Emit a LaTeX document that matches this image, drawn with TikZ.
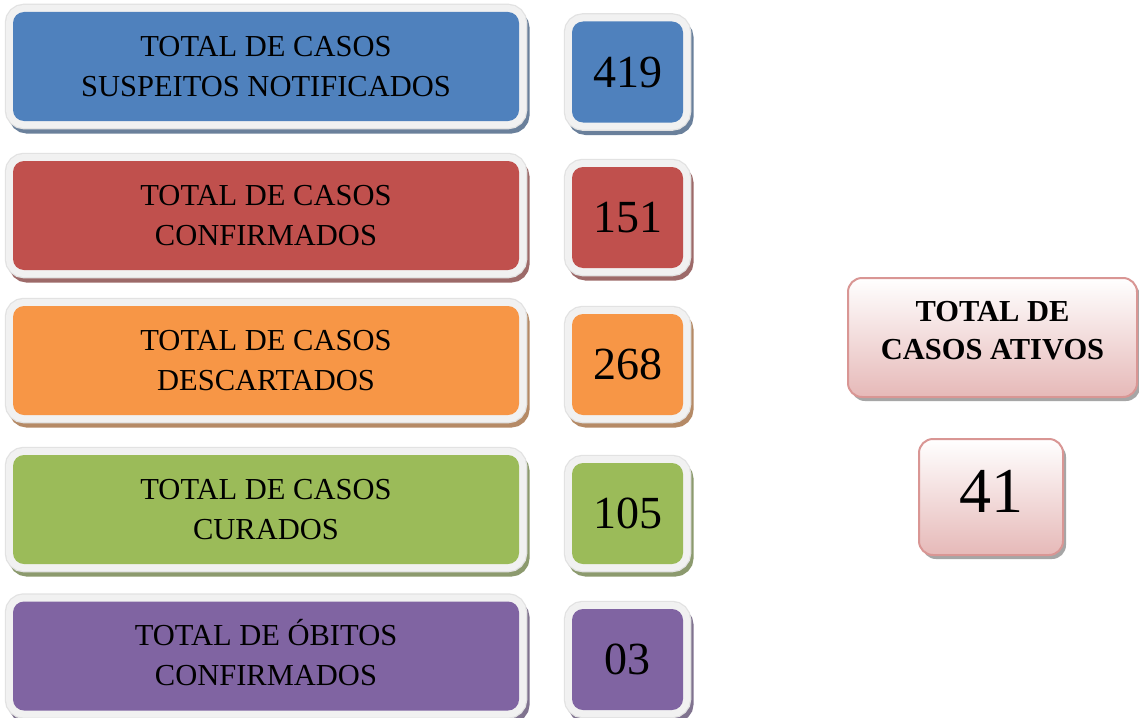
\documentclass[tikz,border=0pt]{standalone}
\usepackage{fontspec}
\setmainfont{Liberation Serif}
\definecolor{cblue}{HTML}{4F81BD}
\definecolor{cred}{HTML}{C0504D}
\definecolor{corange}{HTML}{F79646}
\definecolor{cgreen}{HTML}{9BBB59}
\definecolor{cpurple}{HTML}{8064A2}
\definecolor{framefill}{HTML}{F1F1F1}
\definecolor{frameline}{HTML}{E2E2E2}
\definecolor{pinkline}{HTML}{D99694}
\definecolor{pinkfill}{HTML}{E6B9B8}
\tikzset{
  framed/.style={
    preaction={draw=#1!45!gray, fill=#1!45!gray, line width=15pt,
               transform canvas={shift={(3pt,-5pt)}}},
    preaction={draw=frameline, fill=frameline, line width=16.5pt},
    preaction={draw=framefill, fill=framefill, line width=14pt},
    fill=#1, rounded corners=11pt, inner sep=0pt, align=center},
  lbox/.style={framed=#1, minimum width=506pt, minimum height=109pt,
    font=\fontsize{30.5}{40}\selectfont},
  nbox/.style={framed=#1, minimum width=111pt, minimum height=101pt,
    font=\fontsize{46}{46}\selectfont},
  rbox/.style={
    preaction={fill=gray!70, transform canvas={shift={(3pt,-4pt)}}},
    draw=pinkline, line width=2pt, top color=white, bottom color=pinkfill,
    rounded corners=14pt, inner sep=0pt, align=center}
}
\begin{document}
\begin{tikzpicture}[x=1pt, y=-1pt]
\useasboundingbox[fill=white] (0,0) rectangle (1139,717);

\node[lbox=cblue]   (l1) at (266,66.5)  {TOTAL DE CASOS\\SUSPEITOS NOTIFICADOS};
\node[lbox=cred]    (l2) at (266,215.5) {TOTAL DE CASOS\\CONFIRMADOS};
\node[lbox=corange] (l3) at (266,360.5) {TOTAL DE CASOS\\DESCARTADOS};
\node[lbox=cgreen]  (l4) at (266,509.5) {TOTAL DE CASOS\\CURADOS};
\node[lbox=cpurple] (l5) at (266,656)   {TOTAL DE \smash{Ó}BITOS\\CONFIRMADOS};

\node[nbox=cblue]   (n1) at (627.5,72)    {419};
\node[nbox=cred]    (n2) at (627.5,217.5) {151};
\node[nbox=corange] (n3) at (627.5,364.5) {268};
\node[nbox=cgreen]  (n4) at (627.5,513.5) {105};
\node[nbox=cpurple] (n5) at (627.5,659.5) {03};

\node[rbox, minimum width=289pt, minimum height=119pt,
      font=\fontsize{30.5}{38}\selectfont\bfseries] (ativos) at (992.5,337.5)
      {\raisebox{5pt}[\height][\depth]{\begin{tabular}{@{}c@{}}TOTAL DE\\CASOS ATIVOS\end{tabular}}};
\node[rbox, minimum width=144pt, minimum height=116pt,
      font=\fontsize{64}{64}\selectfont] (n41) at (991,497)
      {\raisebox{6pt}[\height][\depth]{41}};
\end{tikzpicture}
\end{document}
